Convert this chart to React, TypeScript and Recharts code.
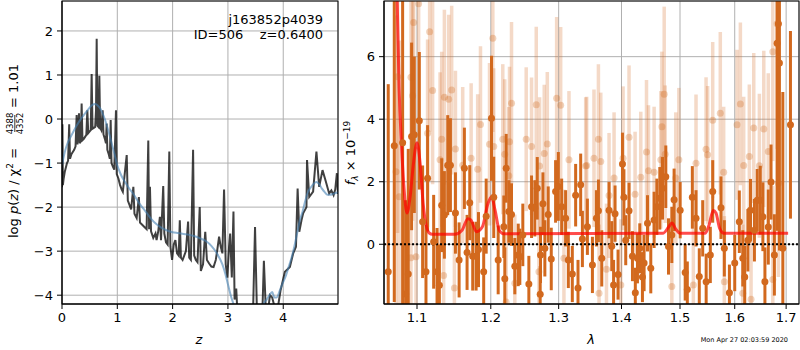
import {
  ComposedChart,
  Line,
  Scatter,
  ErrorBar,
  XAxis,
  YAxis,
  CartesianGrid,
  ReferenceLine,
} from "recharts";

// left panel: log p(z)
const pzZ = [
  0.0, 0.008, 0.016, 0.03, 0.05, 0.07, 0.09, 0.11, 0.13, 0.145, 0.17, 0.195, 0.22, 0.245, 0.265, 0.28,
  0.307, 0.32, 0.34, 0.355, 0.37, 0.395, 0.42, 0.44, 0.458, 0.475, 0.5, 0.52, 0.536, 0.552, 0.575, 0.6,
  0.615, 0.627, 0.64, 0.66, 0.675, 0.69, 0.71, 0.735, 0.75, 0.775, 0.795, 0.807, 0.82, 0.845, 0.865,
  0.88, 0.895, 0.92, 0.945, 0.976, 0.99, 1.02, 1.05, 1.08, 1.1, 1.17, 1.19, 1.22, 1.25, 1.29, 1.31,
  1.35, 1.39, 1.41, 1.45, 1.49, 1.53, 1.56, 1.575, 1.59, 1.61, 1.65, 1.69, 1.71, 1.74, 1.77, 1.79,
  1.83, 1.85, 1.88, 1.91, 1.94, 1.96, 1.99, 2.02, 2.05, 2.08, 2.11, 2.13, 2.15, 2.18, 2.21, 2.24,
  2.28, 2.3, 2.33, 2.37, 2.39, 2.42, 2.45, 2.49, 2.51, 2.55, 2.59, 2.62, 2.66, 2.7, 2.74, 2.78, 2.81,
  2.84, 2.87, 2.9, 2.93, 2.96, 2.99, 3.02, 3.04, 3.07, 3.1, 3.12, 3.15, 3.18, 3.22, 3.26, 3.3, 3.35,
  3.4, 3.45, 3.49, 3.53, 3.58, 3.62, 3.65, 3.69, 3.73, 3.76, 3.8, 3.85, 3.9, 3.95, 4.03, 4.12, 4.18,
  4.23, 4.26, 4.29, 4.33, 4.36, 4.42, 4.43, 4.47, 4.54, 4.6, 4.65, 4.71, 4.77, 4.83, 4.87, 4.91,
  4.94, 4.97, 4.99,
];
const pzLog = [
  -1.55, -0.12, -1.5, -1.35, -1.2, -1.1, -1.0, -0.95, -0.12, -0.9, -0.8, -0.75, -0.7, -0.62, 0.09, -0.58,
  0.13, -0.55, -0.5, 0.35, -0.48, -0.45, -0.4, -0.36, 0.2, -0.32, -0.28, -0.25, 1.02, -0.22, -0.2, -0.18,
  0.2, 1.82, -0.15, -0.18, 0.98, -0.2, -0.25, 0.2, -0.35, -0.45, -0.55, -0.1, -0.7, -0.8, -0.9,
  -0.02, -1.0, -1.08, -1.15, 0.2, -1.25, -1.35, -1.5, -1.6, -1.65, -0.82, -1.85, -1.95, -2.05, -1.54, -2.15,
  -2.25, -1.77, -2.35, -2.4, -2.45, -2.5, -0.49, -2.5, -1.54, -2.55, -2.7, -2.6, -2.75, -2.55, -2.22, -2.75,
  -1.52, -2.6, -2.8, -2.85, -0.74, -2.9, -3.2, -2.85, -2.75, -3.05, -3.1, -2.3, -3.15, -3.2, -3.1, -3.0,
  -2.33, -3.15, -3.2, -0.7, -3.1, -3.2, -3.25, -2.0, -3.45, -3.3, -2.56, -3.2, -3.28, -3.35, -3.36, -3.2, -2.95,
  -2.67, -2.9, -3.05, -1.6, -3.3, -3.6, -2.9, -2.6, -3.6, -2.1, -4.1, -3.85, -4.6, -4.8, -5.0, -4.9, -4.7,
  -4.9, -4.6, -2.45, -4.7, -4.6, -4.5, -3.22, -4.5, -4.3, -4.0, -4.05, -4.3, -4.3, -3.9, -3.47, -3.36, -3.05,
  -2.9, -1.58, -2.56, -2.3, -2.14, -2.0, -0.93, -1.77, -1.65, -0.74, -1.54, -1.16, -1.42, -1.69, -1.62, -1.73,
  -1.6, -1.23, -1.7,
];
const smoothZ = [
  0.0, 0.05, 0.1, 0.15, 0.2, 0.25, 0.3, 0.35, 0.4, 0.45, 0.5, 0.55, 0.6, 0.65, 0.7, 0.75, 0.8, 0.85,
  0.9, 0.95, 1.0, 1.05, 1.1, 1.15, 1.2, 1.3, 1.4, 1.5, 1.6, 1.7, 1.8, 1.9, 2.0, 2.1, 2.2, 2.3, 2.4,
  2.5, 2.6, 2.7, 2.8, 2.9, 2.95, 3.0, 3.05, 3.1, 3.2, 3.3, 3.4, 3.5, 3.6, 3.65, 3.7, 3.75, 3.8, 3.84,
  3.88, 3.95, 4.0, 4.05, 4.1, 4.15, 4.2, 4.25, 4.3, 4.35, 4.4, 4.45, 4.5, 4.55, 4.6, 4.65, 4.7, 4.75,
  4.8, 4.85, 4.9, 4.95, 4.99,
];
const smoothLog = [
  -1.05, -0.75, -0.55, -0.42, -0.3, -0.18, -0.08, 0.02, 0.1, 0.18, 0.26, 0.32, 0.34, 0.3, 0.22, 0.08, -0.1, -0.32,
  -0.56, -0.8, -1.05, -1.22, -1.35, -1.45, -1.55, -1.72, -1.92, -2.08, -2.25, -2.38, -2.47, -2.53, -2.57, -2.59, -2.61, -2.63, -2.66,
  -2.71, -2.77, -2.88, -3.05, -3.3, -3.5, -3.75, -4.0, -4.2, -4.6, -4.9, -4.95, -4.7, -4.35, -4.18, -4.1, -4.0, -3.93, -4.05,
  -4.05, -3.85, -3.7, -3.55, -3.35, -3.15, -2.9, -2.6, -2.3, -2.1, -1.85, -1.65, -1.55, -1.47, -1.43, -1.48, -1.58, -1.66,
  -1.72, -1.72, -1.7, -1.68, -1.66,
];

// right panel: spectrum
const darkLam = [
  1.0633, 1.0709, 1.0815, 1.0853, 1.0887, 1.093, 1.0965, 1.103, 1.1073, 1.1117, 1.1138, 1.1218, 1.1263,
  1.1294, 1.1325, 1.1361, 1.1406, 1.1442, 1.151, 1.156, 1.1632, 1.1669, 1.1706, 1.1747, 1.1794, 1.1827,
  1.19, 1.1935, 1.201, 1.2042, 1.2105, 1.2186, 1.222, 1.2258, 1.2297, 1.2345, 1.2395, 1.2418, 1.2462,
  1.2551, 1.2591, 1.264, 1.2676, 1.2725, 1.2761, 1.279, 1.2841, 1.2887, 1.2953, 1.2995, 1.3046, 1.3107,
  1.3149, 1.3211, 1.3263, 1.3342, 1.3369, 1.3448, 1.3528, 1.3592, 1.3624, 1.3678, 1.3796, 1.384, 1.3894,
  1.3943, 1.4016, 1.404, 1.407, 1.4125, 1.4182, 1.4266, 1.4305, 1.4378, 1.4436, 1.4492, 1.4549, 1.4596,
  1.4647, 1.4694, 1.4751, 1.4798, 1.4856, 1.4896, 1.5003, 1.5092, 1.522, 1.5286, 1.5345, 1.5407, 1.5546,
  1.559, 1.5743, 1.5805, 1.6, 1.6087, 1.6153, 1.625, 1.63, 1.6376, 1.643, 1.649, 1.654, 1.658, 1.6646,
  1.67, 1.6766, 1.682, 1.6846, 1.6866, 1.6934, 1.7087, 1.387, 1.423, 1.435, 1.513, 1.547, 1.59, 1.619,
  1.272, 1.33, 1.22,
];
const darkFlux = [
  -0.88, 3.15, 3.25, -1.59, -0.95, 3.45, 3.5, 3.95, 0.72, -0.88, 2.11, 0.08, -0.88,
  -1.31, 1.25, 0.94, 2.53, 2.53, 1.0, -0.5, 2.43, -0.26, 1.33, -0.38, -0.38, -0.17,
  -0.88, 0.9, 4.03, 1.5, -0.5, 0.56, 2.43, 1.05, 0.95, -0.7, -0.34, -0.4, 0.3,
  -1.27, 1.2, 1.15, 1.79, -0.34, 1.3, -0.13, 0.95, -0.47, 1.69, 1.85, 1.2, 0.83,
  -0.5, -0.95, 1.57, 1.9, 0.17, 0.56, -0.66, 0.83, 1.07, -0.45, 1.09, -0.06, 0.98,
  -0.97, 2.57, 1.5, 0.13, 1.07, -0.38, -0.45, -0.13, -0.6, 0.67, -0.77, 0.78, 1.2,
  1.47, 1.79, 2.16, -0.07, 0.3, 1.42, 1.09, -0.9, 1.5, 0.83, -1.03, 0.51, -0.34,
  1.69, 1.17, -0.13, -0.6, 0.72, -0.45, 0.13, 1.09, 0.45, 1.41, 1.41, 0.88, -1.2, 0.55,
  1.99, -0.34, 6.43, 7.05, 5.8, -0.13, 3.82, -1.3, -1.55, -1.05, -1.45, -1.2, -1.55, -1.05,
  -1.6, -1.4, -1.1,
];
const darkErr = [
  6.0, 5.0, 5.5, 3.0, 4.0, 3.0, 2.5, 2.2, 1.8, 1.5, 1.7, 1.5, 1.4,
  1.3, 1.5, 1.4, 1.6, 1.5, 1.3, 1.2, 1.3, 1.2, 1.2, 1.1, 1.1, 1.2,
  1.1, 1.2, 2.0, 1.3, 1.1, 1.0, 1.1, 1.0, 1.0, 0.9, 1.0, 0.9, 1.0,
  0.9, 1.0, 0.9, 1.0, 0.9, 1.0, 0.9, 0.9, 1.0, 1.0, 1.1, 0.9, 0.9,
  0.9, 0.9, 1.0, 1.0, 0.9, 0.9, 0.9, 0.9, 1.0, 0.9, 0.9, 0.8, 0.9,
  0.8, 1.0, 0.9, 0.8, 0.9, 0.8, 0.8, 0.8, 0.9, 0.9, 0.8, 0.9, 0.9,
  1.0, 1.0, 1.0, 0.9, 0.9, 1.0, 0.9, 0.9, 1.0, 0.9, 0.9, 0.9, 0.9,
  1.0, 1.0, 0.9, 0.9, 1.0, 0.9, 1.0, 1.0, 1.0, 1.0, 1.1, 1.1, 1.1, 1.2,
  1.2, 1.3, 6.0, 6.0, 6.0, 5.0, 3.0, 0.8, 0.8, 0.8, 0.9, 0.9, 0.9, 1.0,
  0.9, 0.9, 1.0,
];
const lightLam = [
  1.0751, 1.0731, 1.0772, 1.0956, 1.1021, 1.0922, 1.0943, 1.0922, 1.0987, 1.1138, 1.1165, 1.1204, 1.1325,
  1.1303, 1.1361, 1.1351, 1.1419, 1.1459, 1.151, 1.1496, 1.1609, 1.1725, 1.1855, 1.1816, 1.1982, 1.2029,
  1.2042, 1.2171, 1.2199, 1.222, 1.2268, 1.2297, 1.2258, 1.2345, 1.2512, 1.2591, 1.2661, 1.2711, 1.2701,
  1.2781, 1.2827, 1.2969, 1.3031, 1.3081, 1.3159, 1.3421, 1.3437, 1.3624, 1.3553, 1.3662, 1.3634, 1.3754,
  1.3796, 1.3878, 1.4026, 1.3989, 1.4125, 1.4226, 1.4322, 1.4419, 1.4453, 1.4549, 1.4683, 1.4723, 1.474,
  1.4665, 1.4856, 1.4926, 1.498, 1.5238, 1.5286, 1.5468, 1.5497, 1.559, 1.573, 1.5793, 1.5805, 1.6044,
  1.6107, 1.6153, 1.617, 1.6278, 1.6311, 1.6363, 1.6472, 1.6558, 1.6646, 1.6735, 1.6735, 1.682, 1.6846,
];
const lightFlux = [
  5.36, 2.32, 1.52, 7.09, 7.69, 5.34, 4.75, -0.43, -0.4, 3.55, 6.8, 4.92, 3.36,
  2.7, 4.7, -1.0, 4.64, 4.93, 3.05, -1.4, 2.53, 2.75, 3.83, 2.4, 3.2, 6.59,
  3.13, 3.36, 2.88, -1.85, 3.28, 4.51, 2.19, -1.25, 3.36, 3.13, 4.46, 2.5, -0.88,
  2.9, 3.21, 4.67, 4.45, -0.45, 2.7, 2.5, 2.52, 3.36, 2.75, 2.65, -1.57, -0.8,
  1.56, 2.12, 2.75, -1.3, 3.42, 1.6, 2.14, 2.95, 2.35, 2.3, 3.76, 4.8, 2.88,
  2.7, -1.35, 2.12, 2.7, -1.3, 2.59, 3.04, 2.86, 3.97, 4.19, 2.3, -1.2, 3.82,
  4.49, -1.57, 2.52, 2.81, -1.76, 3.72, 2.51, 3.69, 2.97, 6.16, -1.13, 7.05, 1.95,
];
const lightErr = [
  5.0, 5.0, 5.0, 4.5, 4.5, 4.0, 4.0, 3.5, 3.5, 3.0, 3.2, 3.0, 2.8,
  2.8, 2.8, 2.6, 2.7, 2.7, 2.5, 2.5, 2.5, 2.4, 2.5, 2.4, 2.6, 3.0,
  2.5, 2.4, 2.4, 2.2, 2.4, 2.6, 2.2, 2.2, 2.3, 2.2, 2.5, 2.2, 2.2,
  2.2, 2.3, 2.6, 2.5, 2.2, 2.2, 2.2, 2.2, 2.4, 2.2, 2.2, 2.2, 2.1,
  2.0, 2.1, 2.3, 2.1, 2.3, 2.0, 2.1, 2.3, 2.1, 2.1, 2.4, 2.8, 2.2,
  2.2, 2.1, 2.1, 2.3, 2.1, 2.2, 2.3, 2.2, 2.5, 2.6, 2.1, 2.1, 2.4,
  2.6, 2.2, 2.2, 2.3, 2.3, 2.4, 2.3, 2.5, 2.5, 3.5, 3.0, 4.0, 3.0,
];
const modelLam = [
  1.074, 1.077, 1.08, 1.083, 1.087, 1.091, 1.095, 1.1, 1.104, 1.108, 1.112, 1.116, 1.12, 1.15, 1.16,
  1.168, 1.172, 1.18, 1.188, 1.196, 1.201, 1.206, 1.212, 1.218, 1.47, 1.48, 1.486, 1.492, 1.5, 1.545,
  1.552, 1.56, 1.565, 1.572, 1.58, 1.704,
];
const modelFlux = [
  8.5, 5.0, 3.2, 1.9, 1.0, 1.5, 2.5, 3.25, 2.6, 1.3, 0.6, 0.36, 0.32, 0.32, 0.45,
  0.82, 0.78, 0.4, 0.55, 1.3, 1.52, 1.1, 0.45, 0.34, 0.35, 0.55, 0.68, 0.5, 0.35, 0.35,
  0.6, 1.08, 1.0, 0.5, 0.35, 0.35,
];

const Y_MIN = -1.91;
const Y_MAX = 7.78;

const pzDark = pzZ.map((z, i) => ({ z, v: pzLog[i] }));
const pzSmooth = smoothZ.map((z, i) => ({ z, v: smoothLog[i] }));
// error bars are cut at the plot frame, like matplotlib's clipping
const withErr = (lam: number[], flux: number[], err: number[]) =>
  lam.map((x, i) => ({
    x,
    y: flux[i],
    err: [Math.min(err[i], flux[i] - Y_MIN), Math.min(err[i], Y_MAX - flux[i])],
  }));
const darkPts = withErr(darkLam, darkFlux, darkErr);
const lightPts = withErr(lightLam, lightFlux, lightErr);
const model = modelLam.map((x, i) => ({ x, y: modelFlux[i] }));

const FONT = "DejaVu Sans";
const ORANGE = "#d2691e";
const minus = (v: number) => String(v).replace("-", "\u2212");
const tickStyle = { fontSize: 13, fill: "#000", fontFamily: FONT };

function Dot(color: string, opacity: number) {
  return (p: any) => (
    <circle cx={p.cx} cy={p.cy} r={3.5} fill={color} fillOpacity={opacity} />
  );
}

export default function App() {
  return (
    <div
      style={{
        position: "absolute",
        left: 0,
        top: 0,
        width: 800,
        height: 350,
        background: "#fff",
        fontFamily: FONT,
      }}
    >
      <div style={{ position: "absolute", left: 0, top: 0 }}>
        <ComposedChart width={340} height={350} margin={{ top: 1, right: 2, bottom: 0, left: 0 }}>
          <CartesianGrid stroke="#b0b0b0" />
          <XAxis
            dataKey="z"
            type="number"
            domain={[0, 4.99]}
            ticks={[0, 1, 2, 3, 4]}
            allowDataOverflow
            height={46}
            tick={tickStyle}
            tickSize={5}
            tickMargin={4}
            stroke="#000"
          />
          <YAxis
            type="number"
            domain={[-4.2, 2.68]}
            ticks={[-4, -3, -2, -1, 0, 1, 2]}
            allowDataOverflow
            width={62}
            tick={tickStyle}
            tickSize={5}
            tickMargin={4}
            tickFormatter={minus}
            stroke="#000"
          />
          <Line
            data={pzDark}
            dataKey="v"
            type="linear"
            stroke="#000"
            strokeOpacity={0.75}
            strokeWidth={2}
            dot={false}
            activeDot={false}
            isAnimationActive={false}
          />
          <Line
            data={pzSmooth}
            dataKey="v"
            type="monotone"
            stroke="steelblue"
            strokeOpacity={0.6}
            strokeWidth={2}
            dot={false}
            activeDot={false}
            isAnimationActive={false}
          />
        </ComposedChart>
      </div>
      <div style={{ position: "absolute", left: 340, top: 0 }}>
        <ComposedChart width={460} height={350} margin={{ top: 1, right: 1, bottom: 0, left: 0 }}>
          <CartesianGrid stroke="#b0b0b0" />
          <XAxis
            dataKey="x"
            type="number"
            scale="log"
            domain={[1.058, 1.726]}
            ticks={[1.1, 1.2, 1.3, 1.4, 1.5, 1.6, 1.7]}
            allowDataOverflow
            height={46}
            tick={tickStyle}
            tickSize={5}
            tickMargin={4}
            stroke="#000"
          />
          <YAxis
            type="number"
            domain={[Y_MIN, Y_MAX]}
            ticks={[0, 2, 4, 6]}
            allowDataOverflow
            width={44}
            tick={tickStyle}
            tickSize={5}
            tickMargin={4}
            stroke="#000"
          />
          <Scatter data={lightPts} dataKey="y" shape={Dot(ORANGE, 0.3)} isAnimationActive={false}>
            <ErrorBar dataKey="err" direction="y" width={0} stroke={ORANGE} strokeOpacity={0.25} strokeWidth={3.5} />
          </Scatter>
          <Scatter data={darkPts} dataKey="y" shape={Dot(ORANGE, 1)} isAnimationActive={false}>
            <ErrorBar dataKey="err" direction="y" width={0} stroke={ORANGE} strokeWidth={3} />
          </Scatter>
          <Line
            data={model}
            dataKey="y"
            type="monotone"
            stroke="red"
            strokeOpacity={0.7}
            strokeWidth={3}
            dot={false}
            activeDot={false}
            isAnimationActive={false}
          />
          <ReferenceLine y={0} stroke="#000" strokeDasharray="2 2" strokeWidth={2} />
        </ComposedChart>
      </div>
      <svg
        width={800}
        height={350}
        style={{ position: "absolute", left: 0, top: 0, pointerEvents: "none" }}
        fontFamily={FONT}
      >
        <rect x={62} y={1} width={276} height={303} fill="none" stroke="#000" />
        <rect x={384} y={1} width={415} height={303} fill="none" stroke="#000" />
        <text x={323} y={24} fontSize={13} textAnchor="end">j163852p4039</text>
        <text x={323} y={39} fontSize={13} textAnchor="end" style={{ whiteSpace: "pre" }}>
          {"ID=506    z=0.6400"}
        </text>
        <g transform="translate(18,152) rotate(-90)" fontSize={13}>
          <text x={-86} y={0} style={{ whiteSpace: "pre" }}>
            log <tspan fontStyle="italic">p</tspan>(<tspan fontStyle="italic">z</tspan>) / χ
            <tspan fontSize={9} dy={-5}>2</tspan>
            <tspan dy={5}> =</tspan>
          </text>
          <text x={28.5} y={-5} fontSize={8.5} textAnchor="middle">4388</text>
          <line x1={20} x2={37} y1={-3.2} y2={-3.2} stroke="#000" strokeWidth={0.8} />
          <text x={28.5} y={4.5} fontSize={8.5} textAnchor="middle">4352</text>
          <text x={44} y={0}>= 1.01</text>
        </g>
        <g transform="translate(355,153) rotate(-90)" fontSize={13}>
          <text x={0} y={0} textAnchor="middle">
            <tspan fontStyle="italic">f</tspan>
            <tspan fontSize={9} dy={3} fontStyle="italic">λ</tspan>
            <tspan dy={-3}> × 10</tspan>
            <tspan fontSize={9} dy={-5}>−19</tspan>
          </text>
        </g>
        <text x={199} y={344} fontSize={13} textAnchor="middle" fontStyle="italic">z</text>
        <text x={591} y={344} fontSize={13} textAnchor="middle" fontStyle="italic">λ</text>
        <text x={788} y={342} fontSize={6.5} textAnchor="end">Mon Apr 27 02:03:59 2020</text>
      </svg>
    </div>
  );
}
